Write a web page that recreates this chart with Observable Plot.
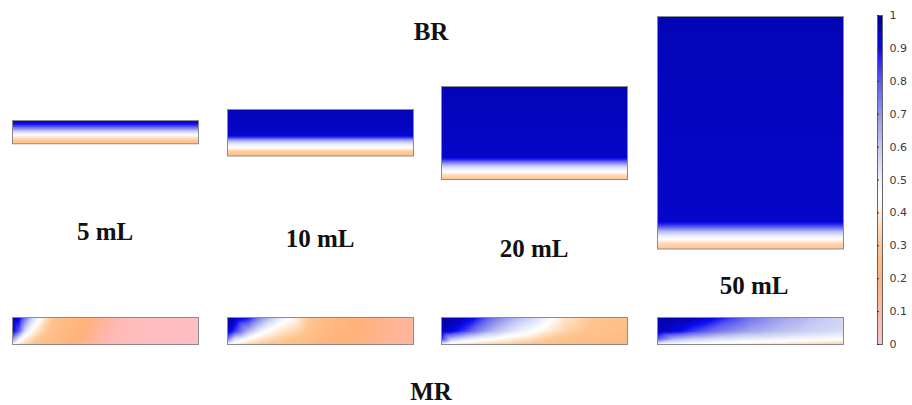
<!DOCTYPE html>
<html>
<head>
<meta charset="utf-8">
<script src="https://cdn.jsdelivr.net/npm/d3@7"></script>
<script src="https://cdn.jsdelivr.net/npm/@observablehq/plot@0.6"></script>
<style>
  html, body { margin: 0; padding: 0; background: #fff; }
  #chart { position: relative; width: 912px; height: 405px; overflow: hidden; }
  .slot { position: absolute; }
  .slot svg { display: block; overflow: visible; }
  .label {
    position: absolute; transform: translateX(-50%); white-space: nowrap;
    font-family: "Liberation Serif", "Times New Roman", serif; font-weight: bold;
    font-size: 25px; line-height: 25px; color: #111;
  }
  .colorbar svg, .colorbar svg text {
    font-family: "DejaVu Sans", sans-serif !important;
    font-size: 11px !important;
  }
</style>
</head>
<body>
<div id="chart"></div>
<script>
// Reactor volumes (mL)
const volumes = [5, 10, 20, 50];
const volumeLabels = ["5 mL", "10 mL", "20 mL", "50 mL"];

// Colour scale: stops of the diverging ramp (pink → orange → white → blue)
const colorStops = [0, 0.1, 0.2, 0.3, 0.4, 0.45, 0.5, 0.6, 0.7, 0.8, 0.9, 1];
const colorRamp = ["#ffc0cb", "#ffb6a8", "#ffb27a", "#ffc48e", "#ffeedd", "#ffffff",
                   "#eef1fb", "#c4c9f3", "#9494ec", "#5c5cf0", "#0a0af0", "#000090"];
const colorbarTicks = [0, 0.1, 0.2, 0.3, 0.4, 0.5, 0.6, 0.7, 0.8, 0.9, 1];
const colorbarLabels = ["0", "0.1", "0.2", "0.3", "0.4", "0.5", "0.6", "0.7", "0.8", "0.9", "1"];

// BR: vertical profiles (depth fraction from the top → value)
const br5Depth  = [0, 0.12, 0.25, 0.38, 0.5, 0.62, 0.72, 0.85, 1];
const br5Value  = [0.93, 0.91, 0.82, 0.68, 0.55, 0.46, 0.38, 0.31, 0.29];
const br10Depth = [0, 0.55, 0.6, 0.66, 0.72, 0.78, 0.84, 0.9, 1];
const br10Value = [0.96, 0.94, 0.85, 0.68, 0.55, 0.48, 0.42, 0.32, 0.29];
const br20Depth = [0, 0.76, 0.8, 0.84, 0.88, 0.92, 0.95, 1];
const br20Value = [0.96, 0.94, 0.82, 0.65, 0.52, 0.45, 0.36, 0.3];
const br50Depth = [0, 0.88, 0.905, 0.925, 0.945, 0.96, 0.975, 1];
const br50Value = [0.96, 0.94, 0.8, 0.62, 0.5, 0.44, 0.35, 0.3];

// MR: 2-D fields sampled on (column fraction) × (depth fraction) grids
const mrDepth = [0, 0.5, 0.8, 1];
const mr5Cols = [0, 0.035, 0.07, 0.115, 0.15, 0.2, 0.26, 0.38, 0.47, 0.56, 0.74, 1];
const mr5Values = [
  [0.97, 0.93, 0.75, 0.55, 0.45, 0.33, 0.26, 0.22, 0.15, 0.07, 0.03, 0.02],
  [0.93, 0.80, 0.55, 0.42, 0.35, 0.29, 0.25, 0.20, 0.12, 0.06, 0.03, 0.02],
  [0.70, 0.50, 0.40, 0.33, 0.30, 0.27, 0.24, 0.18, 0.10, 0.05, 0.03, 0.02],
  [0.42, 0.36, 0.32, 0.29, 0.27, 0.25, 0.23, 0.16, 0.09, 0.05, 0.03, 0.02]
];
const mr10Cols = [0, 0.04, 0.11, 0.18, 0.25, 0.33, 0.42, 0.55, 0.7, 0.85, 1];
const mr10Values = [
  [0.97, 0.96, 0.90, 0.72, 0.58, 0.46, 0.33, 0.24, 0.20, 0.15, 0.12],
  [0.95, 0.85, 0.65, 0.50, 0.42, 0.36, 0.30, 0.23, 0.20, 0.15, 0.12],
  [0.75, 0.55, 0.44, 0.38, 0.34, 0.30, 0.27, 0.22, 0.19, 0.15, 0.12],
  [0.44, 0.38, 0.33, 0.30, 0.28, 0.27, 0.25, 0.21, 0.18, 0.14, 0.11]
];
const mr20Cols = [0, 0.05, 0.12, 0.18, 0.28, 0.4, 0.5, 0.58, 0.66, 0.8, 1];
const mr20Values = [
  [0.97, 0.97, 0.95, 0.90, 0.76, 0.64, 0.56, 0.47, 0.38, 0.31, 0.28],
  [0.96, 0.93, 0.85, 0.76, 0.63, 0.52, 0.45, 0.39, 0.34, 0.29, 0.27],
  [0.85, 0.62, 0.54, 0.50, 0.45, 0.39, 0.35, 0.31, 0.29, 0.27, 0.25],
  [0.46, 0.40, 0.36, 0.34, 0.32, 0.30, 0.28, 0.27, 0.26, 0.24, 0.22]
];
const mr50Cols = [0, 0.1, 0.2, 0.3, 0.4, 0.5, 0.62, 0.75, 0.88, 1];
const mr50Values = [
  [0.97, 0.97, 0.96, 0.92, 0.84, 0.76, 0.70, 0.65, 0.60, 0.57],
  [0.96, 0.92, 0.84, 0.77, 0.72, 0.67, 0.63, 0.60, 0.57, 0.55],
  [0.80, 0.63, 0.58, 0.55, 0.53, 0.51, 0.50, 0.48, 0.47, 0.46],
  [0.48, 0.45, 0.43, 0.42, 0.40, 0.39, 0.37, 0.35, 0.33, 0.31]
];

// ---- layout (pixels) ----
const panelLeft = [12, 227, 441, 657];
const panelWidth = 186;
const brCenterY = 132;
const pxPerMl = 4.65;
const mrTop = 317, mrHeight = 27;
const volumeLabelX = [105, 320, 534, 754];
const volumeLabelBaseline = [240, 247, 257, 294];

const colorScale = {type: "linear", domain: colorStops, range: colorRamp, interpolate: "rgb", clamp: true};

const brProfiles = [[br5Depth, br5Value], [br10Depth, br10Value], [br20Depth, br20Value], [br50Depth, br50Value]];
const mrFields = [[mr5Cols, mr5Values], [mr10Cols, mr10Values], [mr20Cols, mr20Values], [mr50Cols, mr50Values]];

function profilePoints([depth, value]) {
  return depth.flatMap((d, i) => [{x: 0, y: d, v: value[i]}, {x: 1, y: d, v: value[i]}]);
}
function fieldPoints([cols, values]) {
  return mrDepth.flatMap((d, r) => cols.map((c, j) => ({x: c, y: d, v: values[r][j]})));
}

function panel(points, w, h) {
  return Plot.plot({
    width: w + 2, height: h + 2, margin: 1,
    x: {domain: [0, 1], axis: null},
    y: {domain: [0, 1], reverse: true, axis: null},
    color: colorScale,
    marks: [
      Plot.raster(points, {x: "x", y: "y", fill: "v", interpolate: "barycentric", x1: 0, x2: 1, y1: 0, y2: 1}),
      Plot.frame({stroke: "#8c8c8c", strokeWidth: 1})
    ]
  });
}

const chart = document.getElementById("chart");
function place(node, left, top, cls) {
  const div = document.createElement("div");
  div.className = "slot" + (cls ? " " + cls : "");
  div.style.left = left + "px";
  div.style.top = top + "px";
  div.appendChild(node);
  chart.appendChild(div);
}
function label(text, cx, baseline) {
  const div = document.createElement("div");
  div.className = "label";
  div.textContent = text;
  div.style.left = cx + "px";
  div.style.top = (baseline - 21) + "px";
  chart.appendChild(div);
}

volumes.forEach((vol, i) => {
  const h = vol * pxPerMl;
  place(panel(profilePoints(brProfiles[i]), panelWidth, h), panelLeft[i] - 1, brCenterY - h / 2 - 1);
  place(panel(fieldPoints(mrFields[i]), panelWidth, mrHeight), panelLeft[i] - 1, mrTop - 1);
  label(volumeLabels[i], volumeLabelX[i], volumeLabelBaseline[i]);
});

label("BR", 431, 40);
label("MR", 431, 400);

// Colour bar
const colorbar = Plot.plot({
  width: 50, height: 360,
  marginLeft: 17, marginRight: 28, marginTop: 15, marginBottom: 16,
  x: {domain: [0, 1], axis: null},
  y: {domain: [0, 1]},
  color: colorScale,
  marks: [
    Plot.raster({fill: (x, y) => y, x1: 0, x2: 1, y1: 0, y2: 1}),
    Plot.frame({stroke: "#666"}),
    Plot.axisY(colorbarTicks, {anchor: "left", tickSize: -2, text: null, stroke: "#333", label: null}),
    Plot.axisY(colorbarTicks, {anchor: "right", tickSize: 0, tickPadding: 7, label: null,
      fill: "#3a3a3a", tickFormat: (d) => colorbarLabels[colorbarTicks.indexOf(d)]})
  ]
});
place(colorbar, 860, 0, "colorbar");
</script>
</body>
</html>
